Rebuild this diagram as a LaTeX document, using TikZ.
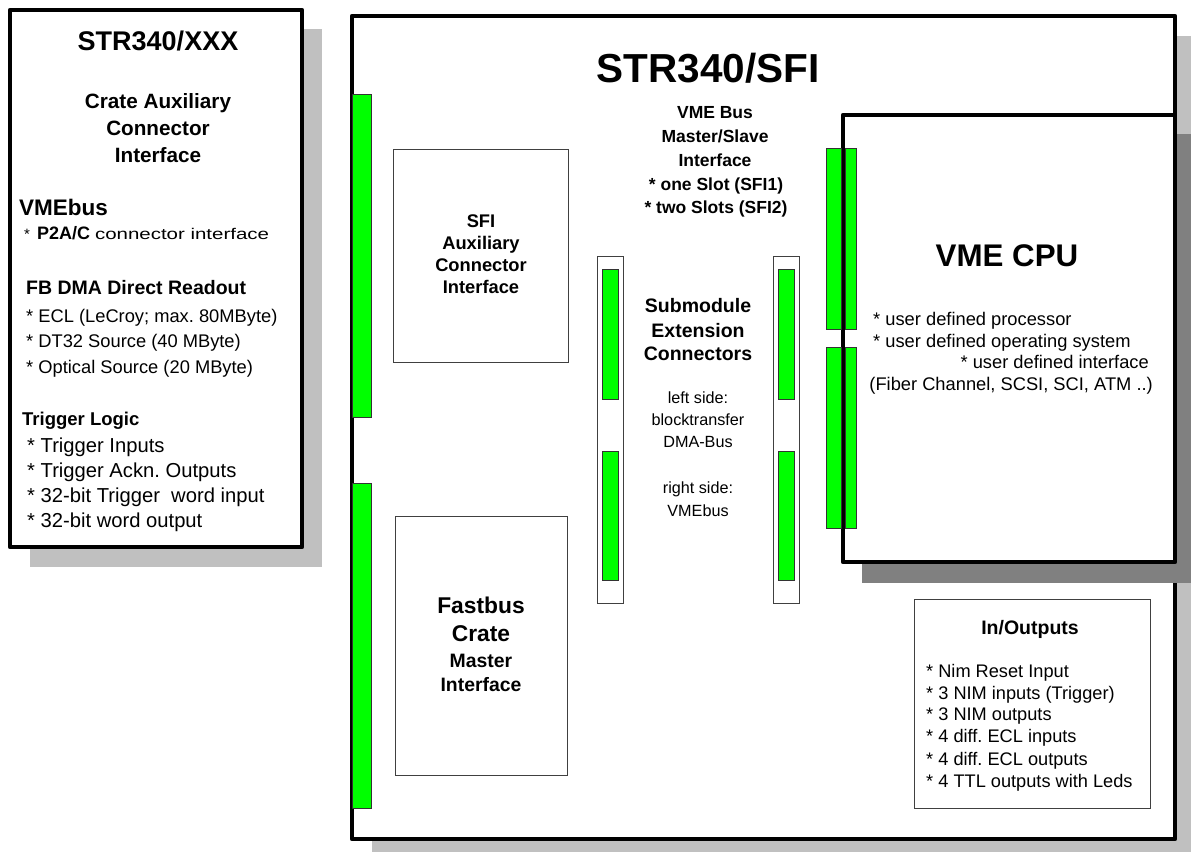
\documentclass[tikz,border=0pt]{standalone}
\usepackage{fontspec}
\setmainfont{Liberation Sans}
\newfontfamily\widefont[FakeStretch=1.32]{Liberation Sans}
\definecolor{lgray}{HTML}{C0C0C0}
\definecolor{dgray}{HTML}{808080}
\definecolor{cgreen}{HTML}{00FF00}
\newcommand{\myfs}[1]{\fontsize{#1}{#1}\selectfont}
\frenchspacing
\begin{document}
\begin{tikzpicture}[x=1pt,y=-1pt,
  card/.style={fill=white,draw=black,line width=4.5pt,line join=round},
  lshadow/.style={fill=lgray,draw=none},
  dshadow/.style={fill=dgray,draw=none},
  thinbox/.style={fill=white,draw=black!75,line width=1pt},
  conn/.style={fill=cgreen,draw=black!80,line width=0.8pt},
  txt/.style={inner sep=0pt,anchor=base},
  ltxt/.style={inner sep=0pt,anchor=base west}]
\useasboundingbox (0,0) rectangle (1191,852);
% ---------- left card ----------
\fill[lshadow] (30,29) rectangle (322,567);
\draw[card] (10,10) rectangle (302,547);
\node[txt,font=\myfs{27}\bfseries] (xxx) at (158,50) {STR340/XXX};
\node[txt,font=\myfs{20.7}\bfseries] (ca1) at (158,108) {Crate Auxiliary};
\node[txt,font=\myfs{20.7}\bfseries] (ca2) at (158,135) {Connector};
\node[txt,font=\myfs{20.7}\bfseries] (ca3) at (158,162) {Interface};
\node[ltxt,font=\myfs{22.5}\bfseries] (vb) at (19,215) {VMEbus};
\node[ltxt] (p2) at (24,239) {{\myfs{15}*}\hspace{7pt}{\myfs{18}\bfseries P2A/C}\hspace{5pt}{\widefont\myfs{15.5}connector interface}};
\node[ltxt,font=\myfs{19.5}\bfseries] (fb) at (26,294) {FB DMA Direct Readout};
\node[ltxt,font=\myfs{18.3}] (fb1) at (26,322) {* ECL (LeCroy; max. 80MByte)};
\node[ltxt,font=\myfs{18.3}] (fb2) at (26,347) {* DT32 Source (40 MByte)};
\node[ltxt,font=\myfs{18.3}] (fb3) at (26,373) {* Optical Source (20 MByte)};
\node[ltxt,font=\myfs{18.5}\bfseries] (tl) at (22,425) {Trigger Logic};
\node[ltxt,font=\myfs{20.2}] (tl1) at (27,452) {* Trigger Inputs};
\node[ltxt,font=\myfs{20.2}] (tl2) at (27,477) {* Trigger Ackn. Outputs};
\node[ltxt,font=\myfs{20.2}] (tl3) at (27,502) {* 32-bit Trigger\ \ word input};
\node[ltxt,font=\myfs{20.2}] (tl4) at (27,527) {* 32-bit word output};
% ---------- main card ----------
\fill[lshadow] (372,36) rectangle (1191,852);
\draw[card] (352,16) rectangle (1175,839);
\draw[conn] (352,94) rectangle (371,417);
\draw[conn] (352,483) rectangle (371,808);
\node[txt,font=\myfs{40.5}\bfseries] (sfi) at (708,82) {STR340/SFI};
\node[txt,font=\myfs{17.5}\bfseries] (vm1) at (715,118) {VME Bus};
\node[txt,font=\myfs{17.5}\bfseries] (vm2) at (715,142) {Master/Slave};
\node[txt,font=\myfs{17.5}\bfseries] (vm3) at (715,166) {Interface};
\node[txt,font=\myfs{17.5}\bfseries] (vm4) at (716,190) {* one Slot (SFI1)};
\node[txt,font=\myfs{17.5}\bfseries] (vm5) at (716,213) {* two Slots (SFI2)};
% SFI auxiliary box
\draw[thinbox] (393,149) rectangle (568,362);
\node[txt,font=\myfs{18.3}\bfseries] (ax1) at (481,227) {SFI};
\node[txt,font=\myfs{18.3}\bfseries] (ax2) at (481,249) {Auxiliary};
\node[txt,font=\myfs{18.3}\bfseries] (ax3) at (481,271) {Connector};
\node[txt,font=\myfs{18.3}\bfseries] (ax4) at (481,293) {Interface};
% Fastbus box
\draw[thinbox] (395,516) rectangle (567,775);
\node[txt,font=\myfs{22.8}\bfseries] (fa1) at (481,613) {Fastbus};
\node[txt,font=\myfs{22.8}\bfseries] (fa2) at (481,641) {Crate};
\node[txt,font=\myfs{19.4}\bfseries] (fa3) at (481,667) {Master};
\node[txt,font=\myfs{19.4}\bfseries] (fa4) at (481,691) {Interface};
% submodule strips
\draw[thinbox] (597,256) rectangle (623,603);
\draw[thinbox] (773,256) rectangle (799,603);
\draw[conn] (602,269) rectangle (618,399);
\draw[conn] (602,451) rectangle (618,580);
\draw[conn] (778,269) rectangle (794,399);
\draw[conn] (778,451) rectangle (794,580);
\node[txt,font=\myfs{19.5}\bfseries] (sm1) at (698,312) {Submodule};
\node[txt,font=\myfs{19.5}\bfseries] (sm2) at (698,337) {Extension};
\node[txt,font=\myfs{19.5}\bfseries] (sm3) at (698,360) {Connectors};
\node[txt,font=\myfs{16.2}] (ls1) at (698,403) {left side:};
\node[txt,font=\myfs{16.2}] (ls2) at (698,425) {blocktransfer};
\node[txt,font=\myfs{16.2}] (ls3) at (698,447) {DMA-Bus};
\node[txt,font=\myfs{16.2}] (rs1) at (698,493) {right side:};
\node[txt,font=\myfs{16.2}] (rs2) at (698,516) {VMEbus};
% ---------- VME CPU card ----------
\fill[dshadow] (862,134) rectangle (1191,583);
\draw[card] (843,115) rectangle (1175,562);
\draw[conn] (826,148) rectangle (841,329);
\draw[conn] (845,148) rectangle (856,329);
\draw[conn] (826,347) rectangle (841,528);
\draw[conn] (845,347) rectangle (856,528);
\node[txt,font=\myfs{31.3}\bfseries] (cpu) at (1007,266) {VME CPU};
\node[ltxt,font=\myfs{18.3}] (cp1) at (873,325) {* user defined processor};
\node[ltxt,font=\myfs{18.3}] (cp2) at (873,347) {* user defined operating system};
\node[inner sep=0pt,anchor=base east,font=\myfs{18.3}] (cp3) at (1149,368) {* user defined interface};
\node[inner sep=0pt,anchor=base east,font=\myfs{18.3}] (cp4) at (1153,390) {(Fiber Channel, SCSI, SCI, ATM ..)};
% ---------- In/Outputs ----------
\draw[thinbox] (914,599) rectangle (1150,808);
\node[txt,font=\myfs{19.5}\bfseries] (io) at (1030,634) {In/Outputs};
\node[ltxt,font=\myfs{18.2}] (io1) at (926,677) {* Nim Reset Input};
\node[ltxt,font=\myfs{18.2}] (io2) at (926,699) {* 3 NIM inputs (Trigger)};
\node[ltxt,font=\myfs{18.2}] (io3) at (926,720) {* 3 NIM outputs};
\node[ltxt,font=\myfs{18.2}] (io4) at (926,742) {* 4 diff. ECL inputs};
\node[ltxt,font=\myfs{18.2}] (io5) at (926,765) {* 4 diff. ECL outputs};
\node[ltxt,font=\myfs{18.2}] (io6) at (926,787) {* 4 TTL outputs with Leds};
\end{tikzpicture}
\end{document}
